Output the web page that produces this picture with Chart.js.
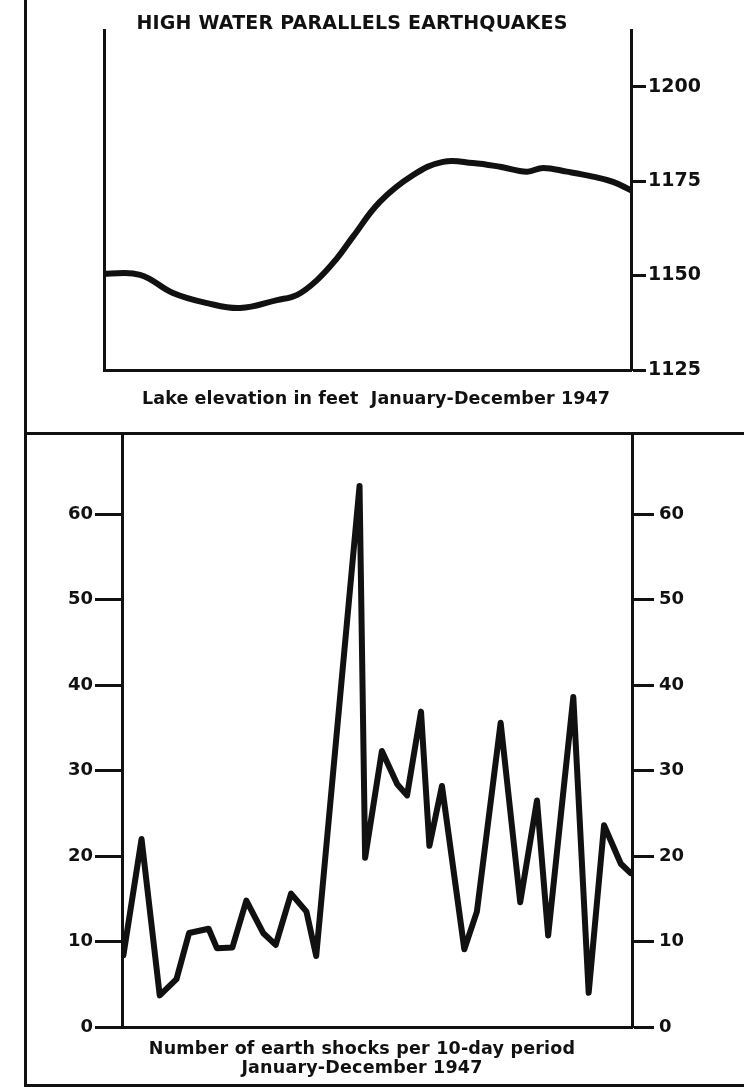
<!DOCTYPE html>
<html>
<head>
<meta charset="utf-8">
<script src="https://cdn.jsdelivr.net/npm/chart.js@4.4.1/dist/chart.umd.min.js"></script>
<style>
  html, body { margin: 0; padding: 0; background: #fff; }
  #page { position: relative; width: 744px; height: 1087px; overflow: hidden; background: #fff;
          font-family: "DejaVu Sans", "Liberation Sans", sans-serif; font-weight: bold; color: #111; }
  canvas { position: absolute; left: 0; }
  .rule { position: absolute; background: #111; z-index: 2; }
  .txt { position: absolute; white-space: nowrap; transform: translateX(-50%); text-align: center; z-index: 3; }
</style>
</head>
<body>
<div id="page">
  <canvas id="lake" width="744" height="433" style="top:0"></canvas>
  <canvas id="shocks" width="744" height="654" style="top:433px"></canvas>

  <!-- page frame -->
  <div class="rule" style="left:24px; top:0; width:3px; height:1087px"></div>
  <div class="rule" style="left:24px; top:432px; width:720px; height:3px"></div>
  <div class="rule" style="left:24px; top:1084px; width:720px; height:3px"></div>

  <div class="txt" style="left:352px; top:11px; font-size:19px; line-height:22px; letter-spacing:0.2px">HIGH WATER PARALLELS EARTHQUAKES</div>
  <div class="txt" style="left:376px; top:387px; font-size:17.5px; line-height:22px; letter-spacing:0.1px">Lake elevation in feet&nbsp; January-December 1947</div>
  <div class="txt" style="left:362px; top:1039px; font-size:17.5px; line-height:19px; letter-spacing:0.2px">Number of earth shocks per 10-day period<br>January-December 1947</div>
</div>

<script>
// Lake elevation through 1947 (x = month from 1 January, y = feet)
const lakeMonth = [0, 0.82, 1.57, 2.35, 3.1, 3.94, 4.4, 4.85, 5.3, 5.67, 6.28, 7.04,
                   7.72, 8.4, 9.02, 9.63, 10.0, 10.54, 11.13, 11.59, 12];
const lakeFeet = [1150.5, 1150.2, 1145.4, 1142.7, 1141.4, 1143.5, 1144.9, 1148.8, 1154.5,
                  1160.3, 1169.5, 1176.6, 1180.1, 1179.8, 1178.8, 1177.5, 1178.5, 1177.5,
                  1176.2, 1174.8, 1172.6];
const lakeTicks = [1125, 1150, 1175, 1200];

// Earth shocks per 10-day period (x = day of year, y = number of shocks)
const shockDay = [1, 14, 27, 39, 48, 62, 68, 79, 89, 101, 110, 121, 132, 139, 170, 174,
                  186, 197, 204, 214, 220, 229, 245, 254, 271, 285, 297, 305, 323, 334,
                  345, 357, 364];
const shockCount = [8.4, 22, 3.7, 5.6, 11, 11.5, 9.2, 9.3, 14.8, 11, 9.6, 15.6, 13.5, 8.3,
                    63.3, 19.8, 32.3, 28.4, 27.1, 36.9, 21.2, 28.2, 9.1, 13.5, 35.6, 14.6,
                    26.5, 10.7, 38.6, 4.0, 23.6, 19.1, 18.0];
const shockTicks = [0, 10, 20, 30, 40, 50, 60];

const INK = '#111';
const fontFamily = '"DejaVu Sans", "Liberation Sans", sans-serif';

function fixed(size, vertical) {
  return function (s) {
    if (vertical) s.width = size; else s.height = size;
    s.paddingTop = 0; s.paddingBottom = 0; s.paddingLeft = 0; s.paddingRight = 0;
  };
}
function useTicks(values) {
  return function (s) { s.ticks = values.map(v => ({ value: v })); };
}
const plainLabel = v => String(v);
const hiddenAxis = {
  ticks: { display: false },
  grid: { display: false, drawTicks: false },
  border: { display: true, color: INK, width: 3 }
};

const common = {
  responsive: false,
  animation: false,
  events: [],
  plugins: { legend: { display: false }, tooltip: { enabled: false } },
  elements: { point: { radius: 0 } }
};

// Upper panel: lake elevation
new Chart(document.getElementById('lake'), {
  type: 'line',
  data: {
    datasets: [{
      data: lakeMonth.map((m, i) => ({ x: m, y: lakeFeet[i] })),
      borderColor: INK,
      borderWidth: 6,
      tension: 0.4,
      borderCapStyle: 'round',
      borderJoinStyle: 'round',
      fill: false,
      yAxisID: 'yR'
    }]
  },
  options: Object.assign({}, common, {
    layout: { padding: { top: 30, left: 0, right: 0, bottom: 0 } },
    scales: {
      x: Object.assign({ type: 'linear', min: 0, max: 12, position: 'bottom', afterFit: fixed(63, false) }, hiddenAxis),
      yL: Object.assign({ type: 'linear', min: 1125, max: 1215, position: 'left', afterFit: fixed(104, true) }, hiddenAxis),
      yR: {
        type: 'linear', min: 1125, max: 1215, position: 'right',
        afterBuildTicks: useTicks(lakeTicks),
        afterFit: fixed(113, true),
        ticks: { color: INK, font: { family: fontFamily, weight: 'bold', size: 19 }, padding: 2,
                 autoSkip: false, callback: plainLabel },
        grid: { display: true, drawOnChartArea: false, drawTicks: true, tickLength: 15, tickWidth: 3, tickColor: INK },
        border: { display: true, color: INK, width: 3 }
      }
    }
  })
});

// Lower panel: earth shocks
const shockFont = { family: fontFamily, weight: 'bold', size: 18 };
new Chart(document.getElementById('shocks'), {
  type: 'line',
  data: {
    datasets: [{
      data: shockDay.map((d, i) => ({ x: d, y: shockCount[i] })),
      borderColor: INK,
      borderWidth: 6,
      tension: 0,
      borderCapStyle: 'round',
      borderJoinStyle: 'round',
      fill: false,
      yAxisID: 'yL'
    }]
  },
  options: Object.assign({}, common, {
    layout: { padding: 0 },
    scales: {
      x: Object.assign({ type: 'linear', min: 0, max: 365, position: 'bottom', afterFit: fixed(60, false) }, hiddenAxis),
      yL: {
        type: 'linear', min: 0, max: 69.5, position: 'left',
        afterBuildTicks: useTicks(shockTicks),
        afterFit: fixed(122, true),
        ticks: { color: INK, font: shockFont, padding: 2, autoSkip: false, callback: plainLabel },
        grid: { display: true, drawOnChartArea: false, drawTicks: true, tickLength: 27, tickWidth: 3, tickColor: INK },
        border: { display: true, color: INK, width: 3 }
      },
      yR: {
        type: 'linear', min: 0, max: 69.5, position: 'right',
        afterBuildTicks: useTicks(shockTicks),
        afterFit: fixed(112, true),
        ticks: { color: INK, font: shockFont, padding: 5, autoSkip: false, callback: plainLabel },
        grid: { display: true, drawOnChartArea: false, drawTicks: true, tickLength: 22, tickWidth: 3, tickColor: INK },
        border: { display: true, color: INK, width: 3 }
      }
    }
  })
});
</script>
</body>
</html>
